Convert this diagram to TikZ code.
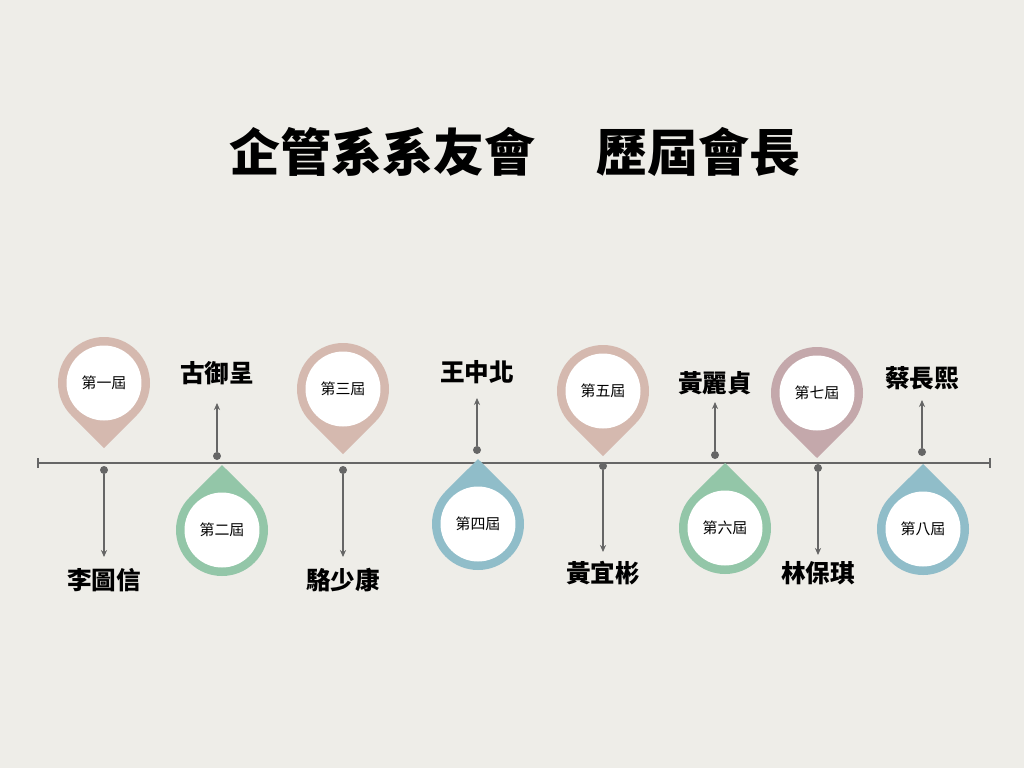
\documentclass[tikz,border=0pt]{standalone}
\usepackage{fontspec}
\setmainfont{Noto Sans CJK TC}
\newfontfamily\titlefont{Noto Sans CJK TC Black}
\usetikzlibrary{arrows.meta}
\definecolor{bgc}{HTML}{EEEDE8}
\definecolor{pinrose}{HTML}{D5B9AF}
\definecolor{pinmauve}{HTML}{C4A8AB}
\definecolor{pingreen}{HTML}{93C6A8}
\definecolor{pinblue}{HTML}{90BDC9}
\definecolor{linec}{HTML}{666666}
\tikzset{
  pinface/.style={circle, fill=white, minimum size=1.5cm, inner sep=0pt, font=\fontsize{8.5}{10}\selectfont},
  namelabel/.style={font=\bfseries\fontsize{14}{16}\selectfont},
  leaddot/.style={circle, fill=linec, inner sep=0pt, minimum size=0.16cm},
  stem/.style={draw=linec, line width=0.6pt, -{Stealth[length=4pt,width=3.5pt]}}
}
% pin pointing down: colour, x, y, node name, label
\newcommand{\downpin}[5]{
  \fill[#1] (#2,#3) ++(135:46) arc(135:405:46) -- (#2,#3+65) -- cycle;
  \node[pinface] (#4) at (#2,#3) {#5};
}
% pin pointing up
\newcommand{\uppin}[5]{
  \fill[#1] (#2,#3) ++(-45:46) arc(-45:225:46) -- (#2,#3-65) -- cycle;
  \node[pinface] (#4) at (#2,#3) {#5};
}
\begin{document}
\begin{tikzpicture}[x=0.02cm, y=-0.02cm]
  \fill[bgc] (0,0) rectangle (1024,768);
  \node[font=\titlefont\fontsize{29}{34}\selectfont] (title) at (515,152) {企管系系友會\hspace{1.2em}歷屆會長};

  % timeline
  \coordinate (tl) at (38,463);
  \coordinate (tr) at (990,463);
  \draw[linec, line width=0.8pt] (tl) -- (tr);
  \draw[linec, line width=0.8pt] (38,458) -- (38,468) (990,458) -- (990,468);

  \downpin{pinrose}{104}{383}{p1}{第一屆}
  \uppin{pingreen}{222}{530}{p2}{第二屆}
  \downpin{pinrose}{343}{389}{p3}{第三屆}
  \uppin{pinblue}{478}{524}{p4}{第四屆}
  \downpin{pinrose}{603}{391}{p5}{第五屆}
  \uppin{pingreen}{725}{528}{p6}{第六屆}
  \downpin{pinmauve}{817}{393}{p7}{第七屆}
  \uppin{pinblue}{923}{529}{p8}{第八屆}

  % leaders below the line
  \node[leaddot] (d1) at (104,470) {};
  \node[namelabel] (n1) at (104,580) {李圖信};
  \draw[stem] (d1) -- (104,557);
  \node[leaddot] (d3) at (343,470) {};
  \node[namelabel] (n3) at (343,580) {駱少康};
  \draw[stem] (d3) -- (343,557);
  \node[leaddot] (d5) at (603,466) {};
  \node[namelabel] (n5) at (603,573) {黃宜彬};
  \draw[stem] (d5) -- (603,552);
  \node[leaddot] (d7) at (818,468) {};
  \node[namelabel] (n7) at (818,573) {林保琪};
  \draw[stem] (d7) -- (818,555);

  % leaders above the line
  \node[leaddot] (d2) at (217,456) {};
  \node[namelabel] (n2) at (217,373) {古御呈};
  \draw[stem] (d2) -- (217,403);
  \node[leaddot] (d4) at (477,450) {};
  \node[namelabel] (n4) at (477,372) {王中北};
  \draw[stem] (d4) -- (477,398);
  \node[leaddot] (d6) at (715,455) {};
  \node[namelabel] (n6) at (715,383) {黃麗貞};
  \draw[stem] (d6) -- (715,402);
  \node[leaddot] (d8) at (922,452) {};
  \node[namelabel] (n8) at (922,378) {蔡長熙};
  \draw[stem] (d8) -- (922,400);
\end{tikzpicture}
\end{document}
